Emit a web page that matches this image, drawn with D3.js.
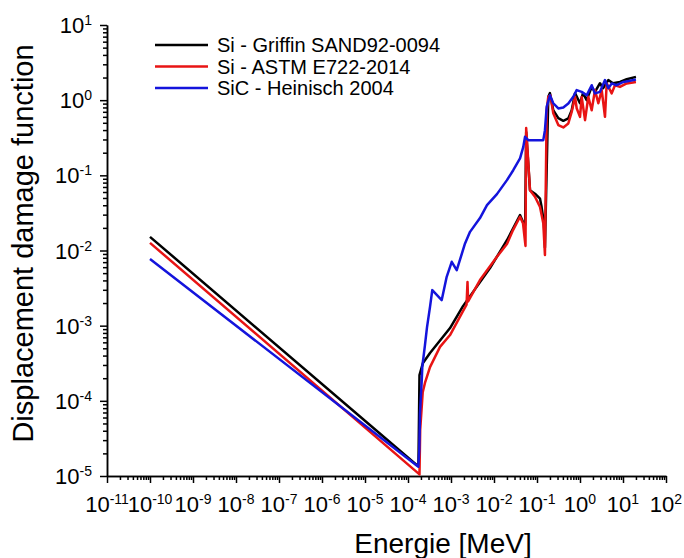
<!DOCTYPE html>
<html>
<head>
<meta charset="utf-8">
<script src="https://cdn.jsdelivr.net/npm/d3@7"></script>
<style>
  body { margin: 0; background: #fff; }
  svg { display: block; }
  text { font-family: Arial, "Liberation Sans", sans-serif; fill: #000; }
  .axis path, .axis line { stroke: #000; stroke-width: 1.5; }
</style>
</head>
<body>
<div id="chart"></div>
<script>
// Si - Griffin SAND92-0094
const griffinE = [1e-10, 1.59e-4, 1.75e-4, 1.85e-4, 2.23e-4, 3.25e-4, 9.5e-4, 1.9e-3, 8.07e-3, 2.0e-2,
    4.03e-2, 4.72e-2, 5.3e-2, 5.6e-2, 6.87e-2, 8.97e-2, 0.1175, 0.128, 0.145, 0.153, 0.183, 0.2,
    0.239, 0.313, 0.409, 0.535, 0.641, 0.766, 1.0, 1.175, 1.43, 1.87, 2.23, 2.92, 3.43, 4.55, 5.85,
    8.5, 12.2, 20];
const griffinD = [0.0152, 1.40e-5, 1.36e-5, 2.2e-4, 3.19e-4, 4.33e-4, 9.29e-4, 1.82e-3, 5.83e-3, 1.37e-2,
    2.96e-2, 2.39e-2, 2.18e-2, 0.375, 6.35e-2, 5.7e-2, 4.9e-2, 3.78e-2, 2.31e-2, 1.1e-2, 1.11, 1.24,
    0.736, 0.576, 0.531, 0.571, 0.736, 1.24, 0.91, 1.24, 1.0, 1.5, 1.29, 1.68, 1.44, 1.85, 1.68,
    1.75, 1.9, 2.04];

// Si - ASTM E722-2014
const astmE = [1e-10, 1.85e-4, 1.92e-4, 2.2e-4, 2.48e-4, 3.25e-4, 5.55e-4, 9.5e-4, 1.9e-3, 2.3e-3,
    2.42e-3, 2.5e-3, 4.72e-3, 1.17e-2, 2.0e-2, 2.77e-2, 4.03e-2, 4.72e-2, 5.4e-2, 5.6e-2, 6.87e-2,
    8.97e-2, 0.1175, 0.14, 0.153, 0.168, 0.183, 0.205, 0.239, 0.313, 0.409, 0.535, 0.641, 0.766,
    0.837, 1.0, 1.096, 1.31, 1.56, 1.87, 2.23, 2.67, 3.2, 3.81, 4.18, 5.46, 6.5, 8.5, 12.2, 20];
const astmD = [0.01264, 1.05e-5, 4.1e-5, 1.3e-4, 1.73e-4, 2.81e-4, 5.23e-4, 7.5e-4, 1.56e-3, 1.9e-3,
    3.8e-3, 2.1e-3, 4.04e-3, 8.24e-3, 1.22e-2, 1.87e-2, 2.81e-2, 2.31e-2, 1.15e-2, 0.425, 6.35e-2,
    5.18e-2, 3.8e-2, 2.31e-2, 8.7e-3, 0.74, 1.11, 1.16, 0.671, 0.466, 0.434, 0.49, 0.698, 1.11,
    0.78, 0.6, 1.1, 0.542, 1.11, 0.736, 1.36, 0.91, 1.36, 0.6, 1.68, 1.23, 1.58, 1.5, 1.67, 1.75];

// SiC - Heinisch 2004
const heinE = [1e-10, 1.74e-4, 1.83e-4, 1.9e-4, 2.09e-4, 2.15e-4, 2.48e-4, 2.77e-4, 3.25e-4, 3.67e-4,
    6.08e-4, 7.94e-4, 1.04e-3, 1.36e-3, 2.12e-3, 2.77e-3, 4.72e-3, 6.87e-3, 1.17e-2, 2.0e-2, 2.8e-2,
    4.03e-2, 4.8e-2, 5.26e-2, 6.28e-2, 0.14, 0.153, 0.168, 0.2, 0.239, 0.313, 0.409, 0.535, 0.698,
    0.837, 1.096, 1.43, 1.87, 2.23, 2.92, 3.81, 4.55, 5.46, 7.13, 10.2, 14.6, 20];
const heinD = [0.00769, 1.33e-5, 2.22e-5, 6.89e-5, 1.89e-4, 2.84e-4, 5.52e-4, 9.57e-4, 1.78e-3, 2.97e-3,
    2.19e-3, 4.47e-3, 7.08e-3, 5.48e-3, 1.24e-2, 1.77e-2, 2.7e-2, 4.02e-2, 5.62e-2, 8.63e-2, 0.117,
    0.168, 0.239, 0.325, 0.294, 0.294, 0.399, 0.815, 1.16, 0.91, 0.776, 0.8, 0.904, 1.11,
    1.36, 1.29, 1.16, 1.58, 1.23, 1.29, 1.85, 1.44, 1.67, 1.58, 1.75, 1.81, 1.88];

const seriesNames = ['Si - Griffin SAND92-0094', 'Si - ASTM E722-2014', 'SiC - Heinisch 2004'];
const seriesColors = ['#000000', '#e81414', '#1414dc'];

const xExponents = d3.range(-11, 3);   // 10^-11 .. 10^2
const yExponents = d3.range(-5, 2);    // 10^-5 .. 10^1

// Dimensions
const W = 684, H = 558;
const margin = { top: 25, right: 18, bottom: 82, left: 107 };
const width = W - margin.left - margin.right;
const height = H - margin.top - margin.bottom;

const svg = d3.select('#chart').append('svg')
    .attr('width', W)
    .attr('height', H);
const g = svg.append('g')
    .attr('transform', `translate(${margin.left}, ${margin.top})`);

const x = d3.scaleLog().domain([1e-11, 1e2]).range([0, width]);
const y = d3.scaleLog().domain([1e-5, 10]).range([height, 0]);

const decades = exps => exps.map(e => Math.pow(10, e));
const minors = exps => exps.slice(0, -1).flatMap(e => d3.range(2, 10).map(m => m * Math.pow(10, e)));

// ticks
g.append('g').attr('class', 'axis').attr('transform', `translate(0, ${height})`)
    .call(d3.axisBottom(x).tickValues(minors(xExponents)).tickSize(4).tickSizeOuter(0).tickFormat(''));
g.append('g').attr('class', 'axis').attr('transform', `translate(0, ${height})`)
    .call(d3.axisBottom(x).tickValues(decades(xExponents)).tickSize(7).tickSizeOuter(0).tickFormat(''));
g.append('g').attr('class', 'axis')
    .call(d3.axisLeft(y).tickValues(minors(yExponents)).tickSize(4).tickSizeOuter(0).tickFormat(''));
g.append('g').attr('class', 'axis')
    .call(d3.axisLeft(y).tickValues(decades(yExponents)).tickSize(7).tickSizeOuter(0).tickFormat(''));

// power-of-ten labels
const powerLabel = (sel, e) => {
    sel.append('tspan').text('10');
    sel.append('tspan').attr('dy', -8).attr('font-size', 14).text(e);
};

g.selectAll('.xlab').data(xExponents).enter()
    .append('text')
    .attr('class', 'xlab')
    .attr('x', e => x(Math.pow(10, e)))
    .attr('y', height + 36)
    .attr('text-anchor', 'middle')
    .attr('font-size', 22)
    .each(function (e) { powerLabel(d3.select(this), e); });

g.selectAll('.ylab').data(yExponents).enter()
    .append('text')
    .attr('class', 'ylab')
    .attr('x', -15)
    .attr('y', e => y(Math.pow(10, e)) + 8)
    .attr('text-anchor', 'end')
    .attr('font-size', 22)
    .each(function (e) { powerLabel(d3.select(this), e); });

// axis titles
svg.append('text')
    .attr('x', 443)
    .attr('y', H - 5)
    .attr('text-anchor', 'middle')
    .attr('font-size', 28)
    .text('Energie [MeV]');

svg.append('text')
    .attr('transform', `translate(33, ${margin.top + height / 2 - 7}) rotate(-90)`)
    .attr('text-anchor', 'middle')
    .attr('font-size', 29)
    .text('Displacement damage function');

// curves
const line = d3.line()
    .x(d => x(d[0]))
    .y(d => y(d[1]));

const series = [
    d3.zip(griffinE, griffinD),
    d3.zip(astmE, astmD),
    d3.zip(heinE, heinD)
];

g.selectAll('.curve').data(series).enter()
    .append('path')
    .attr('class', 'curve')
    .attr('d', line)
    .attr('fill', 'none')
    .attr('stroke', (d, i) => seriesColors[i])
    .attr('stroke-width', 2.5)
    .attr('stroke-linejoin', 'round');

// legend
const legend = svg.append('g').attr('transform', 'translate(155, 45)');
seriesNames.forEach((name, i) => {
    const row = legend.append('g').attr('transform', `translate(0, ${i * 21.5})`);
    row.append('line')
        .attr('x1', 0).attr('x2', 53)
        .attr('stroke', seriesColors[i])
        .attr('stroke-width', 2.5);
    row.append('text')
        .attr('x', 62)
        .attr('y', 7)
        .attr('font-size', 20)
        .text(name);
});
</script>
</body>
</html>
